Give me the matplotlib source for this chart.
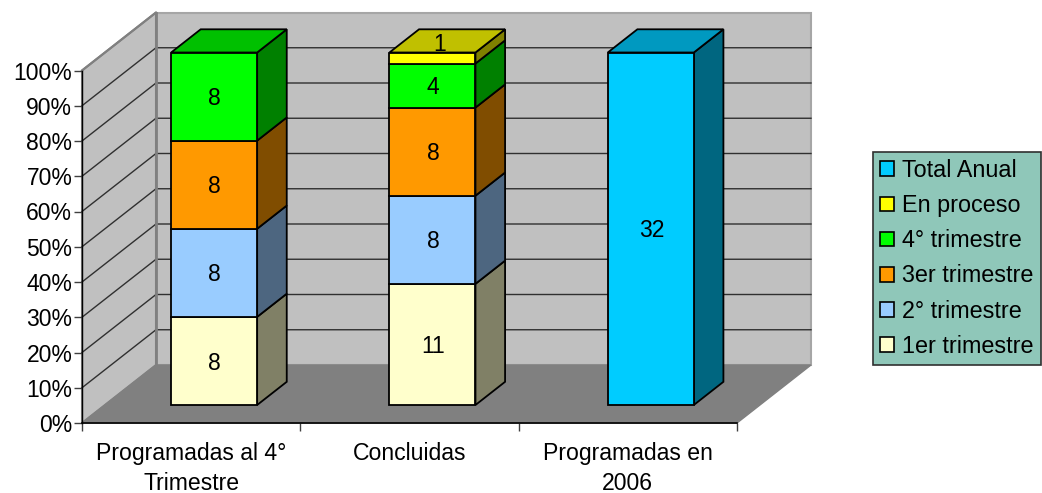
import matplotlib
matplotlib.use("Agg")
import matplotlib.pyplot as plt
from matplotlib.patches import Polygon, Patch
import numpy as np

plt.rcParams['font.family'] = ['Liberation Sans', 'DejaVu Sans']

# tasks per quarter for each group
categories = ['Programadas al 4°\nTrimestre', 'Concluidas', 'Programadas en\n2006']
series_names = ['1er trimestre', '2° trimestre', '3er trimestre', '4° trimestre', 'En proceso', 'Total Anual']
primer = [8, 11, 0]
segundo = [8, 8, 0]
tercero = [8, 8, 0]
cuarto = [8, 4, 0]
en_proceso = [0, 1, 0]
total_anual = [0, 0, 32]
percent_ticks = list(range(0, 101, 10))

series = np.array([primer, segundo, tercero, cuarto, en_proceso, total_anual], dtype=float)

# front, side, top shades for each series
front_colors = ['#FFFFCC', '#99CCFF', '#FF9900', '#00FF00', '#FFFF00', '#00CCFF']
side_colors = ['#808066', '#4D6680', '#804D00', '#008000', '#808000', '#006680']
top_colors = ['#C0C099', '#7399C0', '#C07300', '#00C000', '#C0C000', '#0099C0']

W, H = 1042, 493
fig = plt.figure(figsize=(W / 100, H / 100), dpi=100)
ax = fig.add_axes([82 / W, 1 - 423 / H, 655 / W, 352.5 / H])
ax.set_xlim(0, 3)
ax.set_ylim(0, 100)
ax.patch.set_visible(False)

# fake 3d: depth 1 is the back wall
DX = 74 / 655 * 3
DY = 58 / 352.5 * 100


def proj(x, y, d):
    return (x + d * DX, y + d * DY)


def poly(pts, fc, ec='black', lw=1.3, z=2):
    ax.add_patch(Polygon(pts, closed=True, facecolor=fc, edgecolor=ec, linewidth=lw,
                         zorder=z, clip_on=False, joinstyle='miter'))


# walls and floor
poly([proj(0, 0, 1), proj(3, 0, 1), proj(3, 100, 1), proj(0, 100, 1)], '#C0C0C0', ec='#A6A6A6', lw=1.5, z=1)
poly([proj(0, 0, 0), proj(0, 0, 1), proj(0, 100, 1), proj(0, 100, 0)], '#C0C0C0', ec='#808080', lw=1.5, z=1)
poly([proj(0, 0, 0), proj(3, 0, 0), proj(3, 0, 1), proj(0, 0, 1)], '#808080', ec='#808080', lw=1, z=1.1)

# gridlines on both walls
for p in percent_ticks[1:-1]:
    xs, ys = zip(proj(0, p, 0), proj(0, p, 1), proj(3, p, 1))
    ax.plot(xs, ys, color='#303030', lw=1.0, zorder=1.2, clip_on=False)
xs, ys = zip(proj(0, 0, 1), proj(0, 100, 1))
ax.plot(xs, ys, color='#808080', lw=2, zorder=1.3, clip_on=False)
xs, ys = zip(proj(0, 100, 0), proj(0, 100, 1))
ax.plot(xs, ys, color='#808080', lw=1.5, zorder=1.3, clip_on=False)

# stacked bars
bar_w = 0.394
d0 = 18 / 58
d1 = d0 + 0.40
totals = series.sum(axis=0)
for i in range(len(categories)):
    x0 = i + 0.5 - bar_w / 2
    x1 = i + 0.5 + bar_w / 2
    bottom = 0.0
    top_idx = max(j for j in range(len(series)) if series[j, i] > 0)
    for j in range(len(series)):
        v = series[j, i]
        if v == 0:
            continue
        h = v / totals[i] * 100
        y0, y1 = bottom, bottom + h
        poly([proj(x1, y0, d0), proj(x1, y0, d1), proj(x1, y1, d1), proj(x1, y1, d0)], side_colors[j], z=2 + j * 0.01)
        poly([proj(x0, y0, d0), proj(x1, y0, d0), proj(x1, y1, d0), proj(x0, y1, d0)], front_colors[j], z=2.2 + j * 0.01)
        if j == top_idx:
            poly([proj(x0, y1, d0), proj(x1, y1, d0), proj(x1, y1, d1), proj(x0, y1, d1)], top_colors[j], z=2.2)
        # the small "En proceso" label sits up on the top face
        off = (5, 10) if v == 1 else (0.5, -1.5)
        cx, cy = proj(i + 0.5, (y0 + y1) / 2, d0)
        ax.annotate('%d' % v, (cx, cy), xytext=off, textcoords='offset points',
                    ha='center', va='center', fontsize=16.5, color='black', zorder=5,
                    annotation_clip=False)
        bottom = y1

# axes
ax.set_yticks(percent_ticks)
ax.set_yticklabels(['%d%%' % p for p in percent_ticks], fontsize=16.5)
ax.set_xticks([0, 1, 2, 3])
ax.set_xticklabels([])
ax.set_xticks([0.5, 1.5, 2.5], minor=True)
ax.set_xticklabels(categories, minor=True, fontsize=16.6, linespacing=1.35)
ax.tick_params(axis='x', which='minor', length=0, pad=14)
ax.tick_params(axis='x', which='major', length=5.5, width=1, color='#404040')
ax.tick_params(axis='y', length=6, width=1, color='#404040', pad=1)
for s in ['top', 'right']:
    ax.spines[s].set_visible(False)
ax.spines['left'].set_zorder(4)
ax.spines['bottom'].set_zorder(4)
ax.spines['left'].set_linewidth(1)
ax.spines['bottom'].set_linewidth(1.2)

# legend reads top-down from the last series
handles = [Patch(facecolor=front_colors[j], edgecolor='black', linewidth=1.2, label=series_names[j])
           for j in range(len(series_names) - 1, -1, -1)]
leg = fig.legend(handles=handles, loc='upper left', bbox_to_anchor=(873 / W, 1 - 152 / H),
                 borderaxespad=0, fontsize=16.8, frameon=True, fancybox=False,
                 facecolor='#8FC7B9', edgecolor='#303030', framealpha=1,
                 handlelength=0.6, handleheight=0.6, handletextpad=0.36,
                 labelspacing=0.52, borderpad=0.3)
leg.get_frame().set_linewidth(1.2)

fig.savefig('out.png', dpi=100)
